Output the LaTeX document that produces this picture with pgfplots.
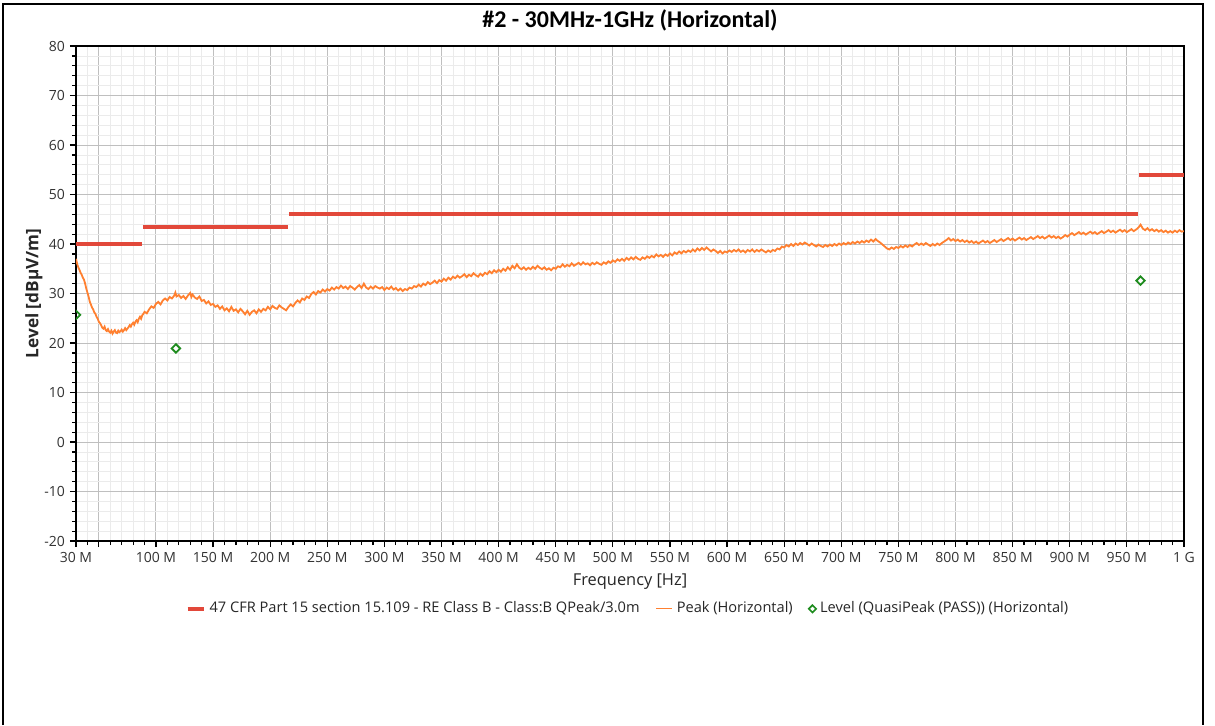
\documentclass[border=0pt]{standalone}
\usepackage{fontspec}
\setmainfont{Open Sans}
\newfontfamily\titlefont{Carlito}
\usepackage{pgfplots}
\pgfplotsset{compat=1.18}
\definecolor{limred}{RGB}{226,72,58}
\definecolor{peakorange}{RGB}{255,128,48}
\definecolor{qpgreen}{RGB}{30,140,30}
\pgfplotsset{
  legline/.style={legend image code/.code={\draw[##1] (0pt,0pt) -- (8pt,0pt);}},
  legmark/.style={legend image code/.code={\draw[##1] plot coordinates {(3pt,0pt)};}},
}
\begin{document}
\begin{tikzpicture}[x=1pt,y=1pt]
\useasboundingbox (0,0) rectangle (607.5,-362.5);
\fill[white] (0,0) rectangle (607.5,-362.5);
\draw[black,line width=1pt] (1.5,-362.5) -- (1.5,-2) -- (601.5,-2) -- (601.5,-362.5);
\begin{axis}[
  at={(38pt,-270.5pt)}, anchor=south west,
  scale only axis, width=554pt, height=247.5pt,
  xmin=30, xmax=1000, ymin=-20, ymax=80,
  xtick={30,50,100,150,200,250,300,350,400,450,500,550,600,650,700,750,800,850,900,950,1000},
  xticklabels={30 M,{},100 M,150 M,200 M,250 M,300 M,350 M,400 M,450 M,500 M,550 M,600 M,650 M,700 M,750 M,800 M,850 M,900 M,950 M,1 G},
  minor xtick={40,60,70,80,90,110,120,130,140,160,170,180,190,210,220,230,240,260,270,280,290,310,320,330,340,360,370,380,390,410,420,430,440,460,470,480,490,510,520,530,540,560,570,580,590,610,620,630,640,660,670,680,690,710,720,730,740,760,770,780,790,810,820,830,840,860,870,880,890,910,920,930,940,960,970,980,990},
  ytick={-20,-10,0,10,20,30,40,50,60,70,80},
  yticklabels={-20,-10,0,10,20,30,40,50,60,70,80},
  minor ytick={-18,-16,-14,-12,-8,-6,-4,-2,2,4,6,8,12,14,16,18,22,24,26,28,32,34,36,38,42,44,46,48,52,54,56,58,62,64,66,68,72,74,76,78},
  tick align=outside, tick pos=left,
  major tick length=3pt, minor tick length=2pt,
  every tick/.style={black, line width=0.6pt},
  grid=both,
  major grid style={color=black!25, line width=0.5pt},
  minor grid style={color=black!8, line width=0.4pt},
  axis line style={black, line width=0.7pt},
  tick label style={font=\fontsize{7}{8}\selectfont, text=black!80},
  xticklabel style={yshift=1pt},
  yticklabel style={xshift=1pt},
  xlabel={Frequency [Hz]},
  ylabel={Level [dBµV/m]},
  xlabel style={at={(0.5,-0.083)}, anchor=center, font=\fontsize{8.2}{9}\selectfont, text=black!85},
  ylabel style={at={(-0.038,0.5)}, anchor=center, font=\bfseries\fontsize{8.6}{9}\selectfont, text=black!85},
  title={\titlefont\bfseries \#2 - 30MHz-1GHz (Horizontal)},
  title style={at={(0.5,1.0525)}, anchor=center, yshift=-6pt, font=\fontsize{12}{14}\selectfont},
  legend style={at={(0.499,-0.137)}, anchor=center, draw=none, fill=none,
    font=\fontsize{7.3}{9}\selectfont, legend columns=-1, text=black!85,
    /tikz/every even column/.append style={column sep=6pt}},
  unbounded coords=jump,
  clip=true,
]
\addplot[limred, line width=2pt, forget plot] coordinates {(30,40) (88,40) (88,nan) (88.5,43.5) (216,43.5) (216,nan) (216.5,46) (960,46) (960,nan) (960.5,54) (1000,54)};
\addplot[peakorange, line width=0.9pt, forget plot] table {
30 37.0
31 36.0
32 35.3
33 34.8
34 34.2
35 33.8
36 33.2
37 32.8
38 32.0
39 31.0
40 30.2
41 29.4
42 28.4
43 27.8
44 27.2
45 26.8
46 26.2
47 25.9
48 25.3
49 24.9
50 24.3
51 24.0
52 23.6
53 23.1
54 22.9
55 23.3
56 22.6
57 22.4
58 22.8
59 22.3
60 22.1
61 22.5
62 21.9
63 22.3
64 22.6
65 22.1
66 22.0
67 22.5
68 22.2
69 22.4
70 22.7
71 22.3
72 22.6
73 23.0
74 22.6
75 22.9
76 23.2
77 23.6
78 23.3
79 23.8
80 24.1
81 23.7
82 24.3
83 24.6
84 24.2
85 24.9
86 25.3
87 24.9
88 25.6
89 25.9
90 26.3
92 26.0
94 26.8
96 27.4
98 27.1
100 27.9
102 28.3
104 27.8
106 28.6
108 29.0
110 28.6
112 29.3
114 29.0
116 29.6
117 30.2
118 29.4
120 29.7
122 29.1
124 29.5
126 28.9
128 29.6
130 30.1
131 29.3
132 29.8
134 29.2
136 28.9
138 29.4
140 28.5
142 28.7
144 28.0
146 28.4
148 27.7
150 27.9
152 27.3
154 27.6
156 26.9
158 27.4
160 26.6
162 27.0
164 26.4
166 27.3
168 26.5
170 26.8
172 26.2
174 26.9
176 26.4
178 25.8
180 26.5
182 25.7
184 26.3
186 26.6
188 26.0
190 26.8
192 26.3
194 26.9
196 26.6
198 27.3
200 26.8
202 27.5
204 27.1
206 26.9
208 27.6
210 27.2
212 26.9
214 26.6
216 27.3
218 27.8
220 27.4
222 28.1
224 28.6
226 28.2
228 29.0
230 28.7
232 29.4
234 29.1
236 29.9
238 30.3
240 29.8
242 30.5
244 30.2
246 30.8
248 30.4
250 30.9
252 30.6
254 31.2
256 30.8
258 31.3
260 31.0
262 31.6
264 31.1
266 31.4
268 30.9
270 31.5
272 31.2
274 30.8
276 31.3
278 31.7
280 31.1
282 32.0
284 31.2
286 30.9
288 31.4
290 31.0
292 31.5
294 31.2
296 31.0
298 31.3
300 30.7
302 31.2
304 30.9
306 31.4
308 30.8
310 31.1
312 30.6
314 31.0
316 30.5
318 30.9
320 30.7
322 31.2
324 31.0
326 31.5
328 31.3
330 31.8
332 31.4
334 32.0
336 31.7
338 32.3
340 31.9
342 32.2
344 32.6
346 32.1
348 32.7
350 32.4
352 33.0
354 32.6
356 33.2
358 32.8
360 33.4
362 33.1
364 33.6
366 33.2
368 33.5
370 33.9
372 33.3
374 33.8
376 33.5
378 34.1
380 33.7
382 33.4
384 34.0
386 33.6
388 34.2
390 33.9
392 34.5
394 34.1
396 34.7
398 34.3
400 34.8
402 34.4
404 35.0
406 34.6
408 35.3
410 34.8
412 35.6
414 35.1
416 35.9
418 35.2
420 34.9
422 35.3
424 34.8
426 35.2
428 34.9
430 35.4
432 35.0
434 35.6
436 35.2
438 34.9
440 35.3
442 34.8
444 35.1
446 34.7
448 35.2
450 35.0
452 35.5
454 35.3
456 35.9
458 35.4
460 35.8
462 35.5
464 36.1
466 35.6
468 35.9
470 36.2
472 35.8
474 36.3
476 35.9
478 36.1
480 35.7
482 36.2
484 35.9
486 36.3
488 36.0
490 35.8
492 36.3
494 36.0
496 36.5
498 36.2
500 36.7
502 36.4
504 36.9
506 36.6
508 37.0
510 36.6
512 37.2
514 36.8
516 37.3
518 36.9
520 37.4
522 37.0
524 36.8
526 37.3
528 37.0
530 37.5
532 37.2
534 37.6
536 37.3
538 37.9
540 37.5
542 37.8
544 37.4
546 37.9
548 37.6
550 38.1
552 37.7
554 38.3
556 38.0
558 38.5
560 38.1
562 38.6
564 38.3
566 38.7
568 38.4
570 38.9
572 38.5
574 39.1
576 38.7
578 39.2
580 38.8
582 39.3
584 38.9
586 38.5
588 38.9
590 38.6
592 38.2
594 38.6
596 38.1
598 38.5
600 38.3
602 38.7
604 38.4
606 38.8
608 38.5
610 38.9
612 38.4
614 38.7
616 38.3
618 38.8
620 38.5
622 38.9
624 38.4
626 38.8
628 38.5
630 38.9
632 38.6
634 38.3
636 38.7
638 38.4
640 38.8
642 38.6
644 39.1
646 38.9
648 39.5
650 39.3
652 39.8
654 39.5
656 40.0
658 39.6
660 40.1
662 39.8
664 40.2
666 39.9
668 40.3
670 40.0
672 39.7
674 40.1
676 39.8
678 39.5
680 39.9
682 39.6
684 39.4
686 39.8
688 39.5
690 39.9
692 39.6
694 40.0
696 39.7
698 40.1
700 39.8
702 40.2
704 39.9
706 40.3
708 40.0
710 40.4
712 40.1
714 40.5
716 40.2
718 40.6
720 40.3
722 40.7
724 40.4
726 40.9
728 40.5
730 41.0
732 40.6
734 40.3
736 39.9
738 39.5
740 39.1
742 38.9
744 39.3
746 39.0
748 39.4
750 39.2
752 39.6
754 39.3
756 39.7
758 39.4
760 39.8
762 39.5
764 39.9
766 40.2
768 39.8
770 40.1
772 39.8
774 40.2
776 39.9
778 39.6
780 40.0
782 39.7
784 40.1
786 39.8
788 40.2
790 40.5
792 40.8
794 41.2
796 40.7
798 41.0
800 40.6
802 40.9
804 40.5
806 40.8
808 40.4
810 40.7
812 40.3
814 40.6
816 40.2
818 40.5
820 40.1
822 40.4
824 40.7
826 40.3
828 40.6
830 40.2
832 40.5
834 40.8
836 40.4
838 40.7
840 41.0
842 40.6
844 40.9
846 41.2
848 40.8
850 41.1
852 40.7
854 41.0
856 41.3
858 40.9
860 41.2
862 40.8
864 41.1
866 41.4
868 41.0
870 41.3
872 41.6
874 41.2
876 41.5
878 41.1
880 41.4
882 41.7
884 41.3
886 41.6
888 41.2
890 41.5
892 41.1
894 41.4
896 41.8
898 41.5
900 41.9
902 42.2
904 41.8
906 42.1
908 42.4
910 42.0
912 42.3
914 41.9
916 42.2
918 42.5
920 42.1
922 42.4
924 42.0
926 42.3
928 42.6
930 42.2
932 42.5
934 42.8
936 42.4
938 42.7
940 42.3
942 42.6
944 42.9
946 42.5
948 42.8
950 42.4
952 42.7
954 43.0
956 42.6
958 42.9
960 43.3
962 43.9
964 43.1
966 42.8
968 43.2
970 42.7
972 43.0
974 42.6
976 42.9
978 42.5
980 42.8
982 42.4
984 42.7
986 42.3
988 42.6
990 42.3
992 42.7
994 42.4
996 42.8
998 42.5
1000 42.6
};
\addplot[qpgreen, only marks, mark=square, mark options={rotate=45}, mark size=1.5pt, line width=0.9pt, forget plot, clip mode=individual] coordinates {(30,25.7) (117.5,18.9) (962,32.6)};
\addlegendimage{limred, line width=2pt, legline}
\addlegendentry{47 CFR Part 15 section 15.109 - RE Class B - Class:B QPeak/3.0m}
\addlegendimage{peakorange, line width=0.6pt, legline}
\addlegendentry{Peak (Horizontal)}
\addlegendimage{qpgreen, only marks, mark=square, mark options={rotate=45}, mark size=1.3pt, line width=0.8pt, legmark}
\addlegendentry{Level (QuasiPeak (PASS)) (Horizontal)}
\end{axis}
\end{tikzpicture}
\end{document}
